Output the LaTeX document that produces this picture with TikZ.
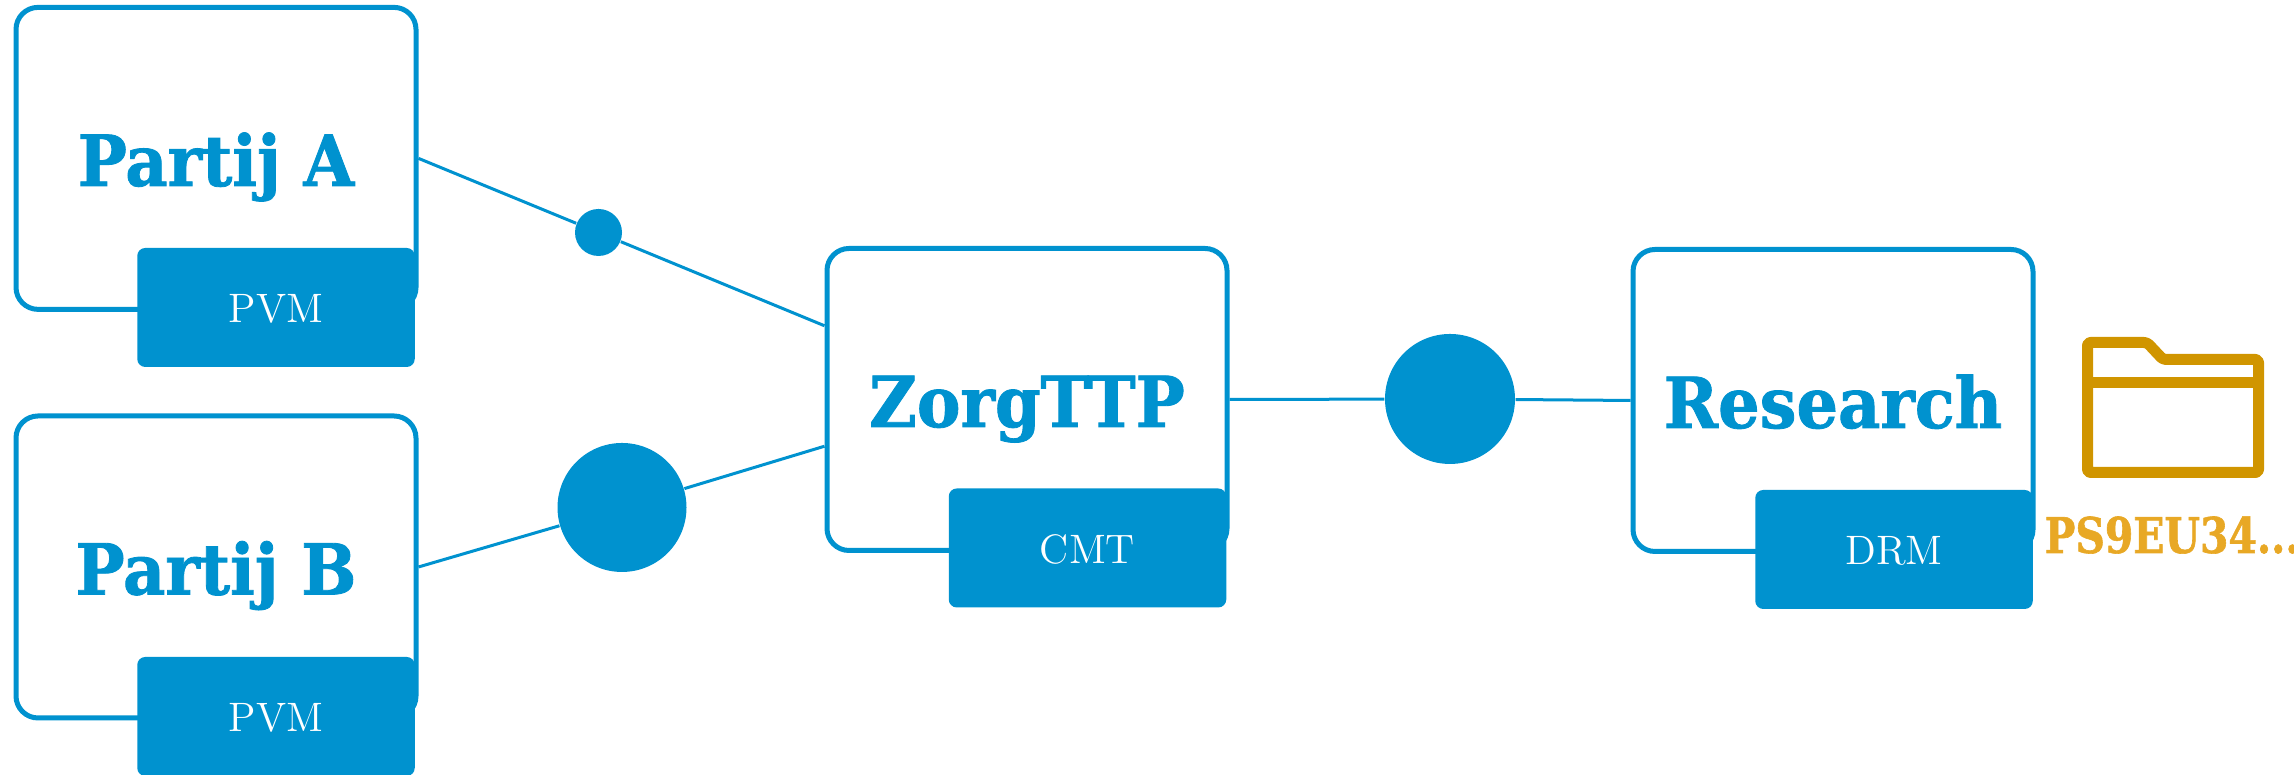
\documentclass[tikz,border=0pt]{standalone}
\usepackage{fontspec}
\newfontfamily\partyfont[FakeStretch=0.93,FakeBold=1.2]{DejaVu Serif Bold}
\newfontfamily\hashfont[FakeStretch=0.83,FakeBold=1.2]{DejaVu Serif Bold}
\newfontfamily\tagfont{Latin Modern Roman}
\definecolor{zorgblue}{HTML}{0092CF}
\definecolor{folderbrown}{HTML}{D09500}
\definecolor{hashorange}{HTML}{E8A825}
\tikzset{
	partybox/.style={draw=zorgblue, line width=0.05cm, fill=white, rounded corners=0.22cm, minimum width=4.0cm, minimum height=3.02cm, text=zorgblue, text height=0.55cm, text depth=0pt, font=\partyfont\fontsize{20}{24}\selectfont},
	tagbox/.style={fill=zorgblue, rounded corners=0.08cm, minimum width=2.775cm, minimum height=1.19cm, text=white, text height=0.31cm, text depth=0pt, font=\tagfont\fontsize{11.7}{14}\selectfont},
	dot/.style={circle, fill=zorgblue, inner sep=0pt},
	wire/.style={draw=zorgblue, line width=0.03cm}
}

\begin{document}
\begin{tikzpicture}
	\useasboundingbox (0, 0) rectangle (22.94, 7.75);

	% connectors first, the boxes lie on top
	\node[dot, minimum size=0.47cm] (dotA) at (5.985, 5.425) {};
	\node[dot, minimum size=1.29cm] (dotB) at (6.22, 2.675) {};
	\node[dot, minimum size=1.30cm] (dotC) at (14.50, 3.76) {};

	\node[partybox] (partijA) at (2.16, 6.166) {Partij A};
	\node[tagbox] (tagA) at (2.76, 4.675) {PVM};

	\node[partybox] (partijB) at (2.16, 2.08) {Partij B};
	\node[tagbox] (tagB) at (2.76, 0.585) {PVM};

	\node[partybox] (zorg) at (10.27, 3.755) {ZorgTTP};
	\node[tagbox] (tagZorg) at (10.875, 2.27) {CMT};

	\node[partybox] (research) at (18.33, 3.745) {Research};
	\node[tagbox] (tagResearch) at (18.94, 2.255) {DRM};

	\draw[wire] (partijA.east) -- (dotA) -- (zorg.160);
	\draw[wire] (partijB.east) -- (dotB) -- (zorg.193.5);
	\draw[wire] (zorg.east) -- (dotC) -- (research.west);

	% folder
	\draw[folderbrown, line width=0.11cm, line join=round, rounded corners=0.03cm] (20.875, 4.325) -- (21.47, 4.325) -- (21.63, 4.155) -- (22.585, 4.155) -- (22.585, 3.025) -- (20.875, 3.025) -- cycle;
	\draw[folderbrown, line width=0.11cm] (20.875, 3.925) -- (22.585, 3.925);

	\node[anchor=base west, inner sep=0pt, text=hashorange, font=\hashfont\fontsize{14}{17}\selectfont] (hash) at (20.44, 2.22) {PS9EU34...};
\end{tikzpicture}
\end{document}
